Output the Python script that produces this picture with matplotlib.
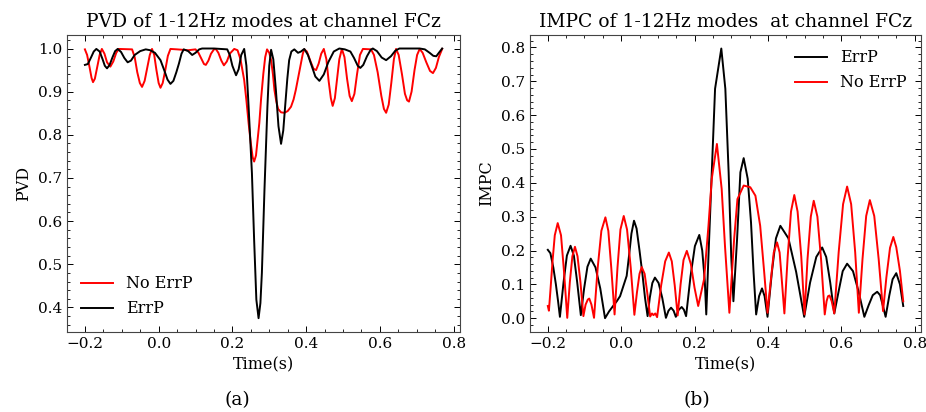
import matplotlib
matplotlib.use('Agg')
import matplotlib.pyplot as plt
from matplotlib.ticker import AutoMinorLocator, MultipleLocator

plt.rcParams['font.family'] = 'DejaVu Serif'
plt.rcParams['mathtext.fontset'] = 'dejavuserif'

# ---- PVD (left panel) ----
pvd_err_t = [-0.200, -0.192, -0.183, -0.176, -0.169, -0.160, -0.152, -0.146, -0.140, -0.133,
             -0.125, -0.118, -0.111, -0.102, -0.093, -0.084, -0.075, -0.065, -0.050, -0.035,
             -0.023, -0.010, 0.005, 0.015, 0.024, 0.032, 0.040, 0.048, 0.055, 0.062,
             0.068, 0.080, 0.091, 0.100, 0.110, 0.118, 0.150, 0.186, 0.193, 0.200,
             0.210, 0.217, 0.224, 0.232, 0.238, 0.244, 0.249, 0.253, 0.259, 0.265,
             0.271, 0.276, 0.280, 0.287, 0.295, 0.300, 0.305, 0.311, 0.318, 0.325,
             0.332, 0.338, 0.343, 0.349, 0.354, 0.360, 0.368, 0.378, 0.386, 0.395,
             0.405, 0.415, 0.425, 0.436, 0.448, 0.460, 0.475, 0.490, 0.505, 0.520,
             0.530, 0.540, 0.547, 0.555, 0.565, 0.575, 0.581, 0.592, 0.605, 0.617,
             0.630, 0.642, 0.653, 0.708, 0.722, 0.735, 0.745, 0.753, 0.760, 0.769]
pvd_err_v = [0.962, 0.964, 0.980, 0.993, 0.999, 0.993, 0.975, 0.960, 0.954, 0.962,
             0.980, 0.994, 0.999, 0.992, 0.978, 0.968, 0.972, 0.985, 0.994, 0.998,
             0.996, 0.990, 0.973, 0.950, 0.928, 0.918, 0.925, 0.945, 0.965, 0.988,
             0.998, 0.994, 0.985, 0.990, 0.998, 1.000, 1.000, 0.998, 0.985, 0.960,
             0.938, 0.952, 0.985, 0.999, 0.960, 0.865, 0.780, 0.711, 0.556, 0.418,
             0.375, 0.410, 0.480, 0.672, 0.865, 0.960, 0.997, 0.975, 0.904, 0.820,
             0.779, 0.810, 0.865, 0.930, 0.973, 0.993, 0.998, 0.990, 0.993, 0.999,
             0.985, 0.960, 0.935, 0.925, 0.940, 0.968, 0.993, 1.000, 0.998, 0.993,
             0.978, 0.960, 0.955, 0.962, 0.982, 0.997, 1.000, 0.994, 0.979, 0.973,
             0.982, 0.995, 1.000, 1.000, 0.998, 0.990, 0.983, 0.982, 0.990, 1.000]

pvd_noerr_t = [-0.200, -0.194, -0.187, -0.182, -0.178, -0.173, -0.167, -0.160, -0.154, -0.147,
               -0.140, -0.131, -0.123, -0.115, -0.108, -0.072, -0.065, -0.058, -0.051, -0.045,
               -0.038, -0.031, -0.024, -0.018, -0.012, -0.006, 0.000, 0.005, 0.011, 0.018,
               0.025, 0.032, 0.050, 0.080, 0.100, 0.108, 0.115, 0.123, 0.128, 0.135,
               0.142, 0.150, 0.155, 0.162, 0.170, 0.177, 0.185, 0.193, 0.205, 0.214,
               0.222, 0.232, 0.238, 0.244, 0.250, 0.255, 0.259, 0.264, 0.268, 0.273,
               0.278, 0.284, 0.289, 0.294, 0.300, 0.305, 0.310, 0.314, 0.319, 0.324,
               0.332, 0.341, 0.350, 0.359, 0.366, 0.372, 0.379, 0.386, 0.391, 0.395,
               0.402, 0.412, 0.420, 0.427, 0.434, 0.441, 0.448, 0.455, 0.461, 0.467,
               0.472, 0.478, 0.484, 0.490, 0.497, 0.504, 0.511, 0.518, 0.524, 0.531,
               0.538, 0.546, 0.554, 0.576, 0.584, 0.594, 0.604, 0.611, 0.617, 0.624,
               0.631, 0.638, 0.644, 0.651, 0.660, 0.668, 0.674, 0.679, 0.686, 0.694,
               0.701, 0.708, 0.716, 0.726, 0.736, 0.744, 0.752, 0.760, 0.769]
pvd_noerr_v = [0.998, 0.985, 0.955, 0.932, 0.922, 0.930, 0.955, 0.985, 0.999, 0.988,
               0.968, 0.958, 0.970, 0.990, 0.999, 0.998, 0.980, 0.945, 0.920, 0.911,
               0.925, 0.955, 0.985, 0.999, 0.985, 0.950, 0.920, 0.909, 0.920, 0.950,
               0.983, 0.999, 0.998, 0.996, 0.998, 0.990, 0.978, 0.964, 0.962, 0.972,
               0.988, 0.998, 0.999, 0.990, 0.972, 0.961, 0.970, 0.988, 0.999, 0.996,
               0.975, 0.927, 0.880, 0.827, 0.780, 0.748, 0.738, 0.752, 0.785, 0.827,
               0.885, 0.942, 0.980, 0.998, 0.990, 0.973, 0.940, 0.904, 0.878, 0.860,
               0.852, 0.851, 0.855, 0.865, 0.882, 0.904, 0.935, 0.966, 0.988, 0.998,
               0.993, 0.970, 0.953, 0.950, 0.965, 0.988, 0.999, 0.975, 0.925, 0.885,
               0.867, 0.885, 0.930, 0.975, 0.999, 0.980, 0.930, 0.890, 0.878, 0.895,
               0.940, 0.985, 0.999, 0.998, 0.985, 0.945, 0.890, 0.860, 0.851, 0.870,
               0.920, 0.975, 0.999, 0.985, 0.940, 0.895, 0.880, 0.877, 0.900, 0.950,
               0.985, 0.999, 0.990, 0.968, 0.948, 0.943, 0.955, 0.980, 0.999]

# ---- IMPC (right panel) ----
impc_err_t = [-0.200, -0.193, -0.185, -0.178, -0.172, -0.167, -0.157, -0.148, -0.138, -0.129,
              -0.120, -0.110, -0.101, -0.092, -0.083, -0.070, -0.057, -0.044, -0.033, -0.022,
              -0.012, -0.003, 0.006, 0.015, 0.022, 0.028, 0.035, 0.042, 0.050, 0.058,
              0.065, 0.072, 0.078, 0.085, 0.092, 0.102, 0.112, 0.122, 0.129, 0.136,
              0.143, 0.149, 0.157, 0.165, 0.171, 0.177, 0.189, 0.201, 0.213, 0.221,
              0.228, 0.232, 0.238, 0.247, 0.256, 0.273, 0.284, 0.293, 0.300, 0.306,
              0.316, 0.325, 0.334, 0.345, 0.354, 0.361, 0.368, 0.376, 0.384, 0.391,
              0.399, 0.411, 0.422, 0.434, 0.456, 0.477, 0.499, 0.515, 0.532, 0.548,
              0.559, 0.570, 0.581, 0.593, 0.604, 0.616, 0.632, 0.647, 0.663, 0.675,
              0.686, 0.698, 0.706, 0.713, 0.721, 0.731, 0.740, 0.750, 0.760, 0.769]
impc_err_v = [0.202, 0.192, 0.150, 0.100, 0.050, 0.004, 0.107, 0.185, 0.214, 0.185,
              0.107, 0.009, 0.088, 0.152, 0.176, 0.150, 0.088, 0.000, 0.020, 0.036,
              0.050, 0.065, 0.095, 0.125, 0.190, 0.250, 0.288, 0.265, 0.200, 0.130,
              0.060, 0.006, 0.060, 0.104, 0.120, 0.104, 0.060, 0.001, 0.022, 0.031,
              0.022, 0.004, 0.025, 0.033, 0.025, 0.006, 0.123, 0.213, 0.246, 0.200,
              0.110, 0.011, 0.184, 0.431, 0.678, 0.797, 0.678, 0.431, 0.184, 0.050,
              0.234, 0.431, 0.473, 0.412, 0.283, 0.135, 0.011, 0.065, 0.088, 0.065,
              0.004, 0.137, 0.236, 0.273, 0.236, 0.137, 0.004, 0.105, 0.181, 0.209,
              0.181, 0.105, 0.014, 0.080, 0.139, 0.161, 0.139, 0.080, 0.004, 0.039,
              0.068, 0.078, 0.068, 0.039, 0.004, 0.067, 0.115, 0.133, 0.100, 0.036]

impc_noerr_t = [-0.200, -0.197, -0.193, -0.187, -0.181, -0.173, -0.164, -0.156, -0.147, -0.140,
                -0.133, -0.126, -0.119, -0.111, -0.103, -0.097, -0.091, -0.087, -0.081, -0.074,
                -0.064, -0.054, -0.043, -0.035, -0.027, -0.018, -0.010, -0.002, 0.007, 0.016,
                0.026, 0.036, 0.043, 0.050, 0.056, 0.064, 0.071, 0.079, 0.084, 0.088,
                0.093, 0.098, 0.109, 0.120, 0.130, 0.138, 0.146, 0.154, 0.162, 0.170,
                0.179, 0.190, 0.200, 0.210, 0.226, 0.238, 0.247, 0.261, 0.274, 0.283,
                0.295, 0.308, 0.317, 0.334, 0.352, 0.366, 0.379, 0.390, 0.399, 0.408,
                0.416, 0.425, 0.432, 0.438, 0.445, 0.454, 0.463, 0.472, 0.481, 0.491,
                0.500, 0.508, 0.517, 0.525, 0.535, 0.545, 0.555, 0.560, 0.564, 0.568,
                0.574, 0.581, 0.593, 0.605, 0.616, 0.627, 0.638, 0.648, 0.658, 0.668,
                0.678, 0.690, 0.702, 0.714, 0.723, 0.733, 0.742, 0.750, 0.760, 0.769]
impc_noerr_v = [0.036, 0.022, 0.080, 0.170, 0.245, 0.281, 0.245, 0.140, 0.001, 0.106,
                0.183, 0.211, 0.183, 0.106, 0.006, 0.040, 0.055, 0.058, 0.040, 0.001,
                0.149, 0.258, 0.298, 0.258, 0.149, 0.011, 0.150, 0.262, 0.302, 0.262,
                0.150, 0.010, 0.076, 0.131, 0.151, 0.131, 0.076, 0.005, 0.014, 0.009,
                0.014, 0.003, 0.097, 0.168, 0.194, 0.168, 0.097, 0.008, 0.100, 0.172,
                0.199, 0.160, 0.090, 0.036, 0.115, 0.273, 0.412, 0.515, 0.382, 0.214,
                0.016, 0.234, 0.352, 0.392, 0.387, 0.362, 0.273, 0.135, 0.016, 0.112,
                0.194, 0.224, 0.194, 0.112, 0.014, 0.182, 0.315, 0.364, 0.315, 0.182,
                0.011, 0.174, 0.300, 0.347, 0.300, 0.174, 0.011, 0.050, 0.065, 0.067,
                0.050, 0.014, 0.195, 0.337, 0.389, 0.337, 0.195, 0.016, 0.175, 0.302,
                0.349, 0.302, 0.175, 0.021, 0.120, 0.208, 0.240, 0.210, 0.140, 0.050]


fig = plt.figure(figsize=(9.26, 4.12), dpi=100)
ax1 = fig.add_axes([0.0724, 0.195, 0.4244, 0.72])
ax2 = fig.add_axes([0.5724, 0.195, 0.4222, 0.72])

lw = 1.4
ax1.plot(pvd_noerr_t, pvd_noerr_v, color='red', lw=lw, label='No ErrP')
ax1.plot(pvd_err_t, pvd_err_v, color='black', lw=lw, label='ErrP')
ax1.set_title('PVD of 1-12Hz modes at channel FCz', fontsize=13.5)
ax1.set_ylabel('PVD', fontsize=11.5)
ax1.set_xlabel('Time(s)', fontsize=11.5)
ax1.legend(loc='lower left', frameon=False, fontsize=11.5)

ax2.plot(impc_err_t, impc_err_v, color='black', lw=lw, label='ErrP')
ax2.plot(impc_noerr_t, impc_noerr_v, color='red', lw=lw, label='No ErrP')
ax2.set_title('IMPC of 1-12Hz modes  at channel FCz', fontsize=13.5)
ax2.set_ylabel('IMPC', fontsize=11.5)
ax2.set_xlabel('Time(s)', fontsize=11.5)
ax2.legend(loc='upper right', frameon=False, fontsize=11.5)

for ax in (ax1, ax2):
    ax.xaxis.set_major_locator(MultipleLocator(0.2))
    ax.yaxis.set_major_locator(MultipleLocator(0.1))
    ax.xaxis.set_minor_locator(AutoMinorLocator())
    ax.yaxis.set_minor_locator(AutoMinorLocator())
    ax.tick_params(which='both', direction='in', top=True, right=True, labelsize=11)
    ax.tick_params(which='major', length=4.5, width=0.7)
    ax.tick_params(which='minor', length=2.5, width=0.6)
    for s in ax.spines.values():
        s.set_linewidth(0.8)
        s.set_color('#444444')

fig.text(0.256, 0.03, '(a)', ha='center', va='center', fontsize=13.5)
fig.text(0.753, 0.03, '(b)', ha='center', va='center', fontsize=13.5)

fig.savefig('out.png', dpi=100)
